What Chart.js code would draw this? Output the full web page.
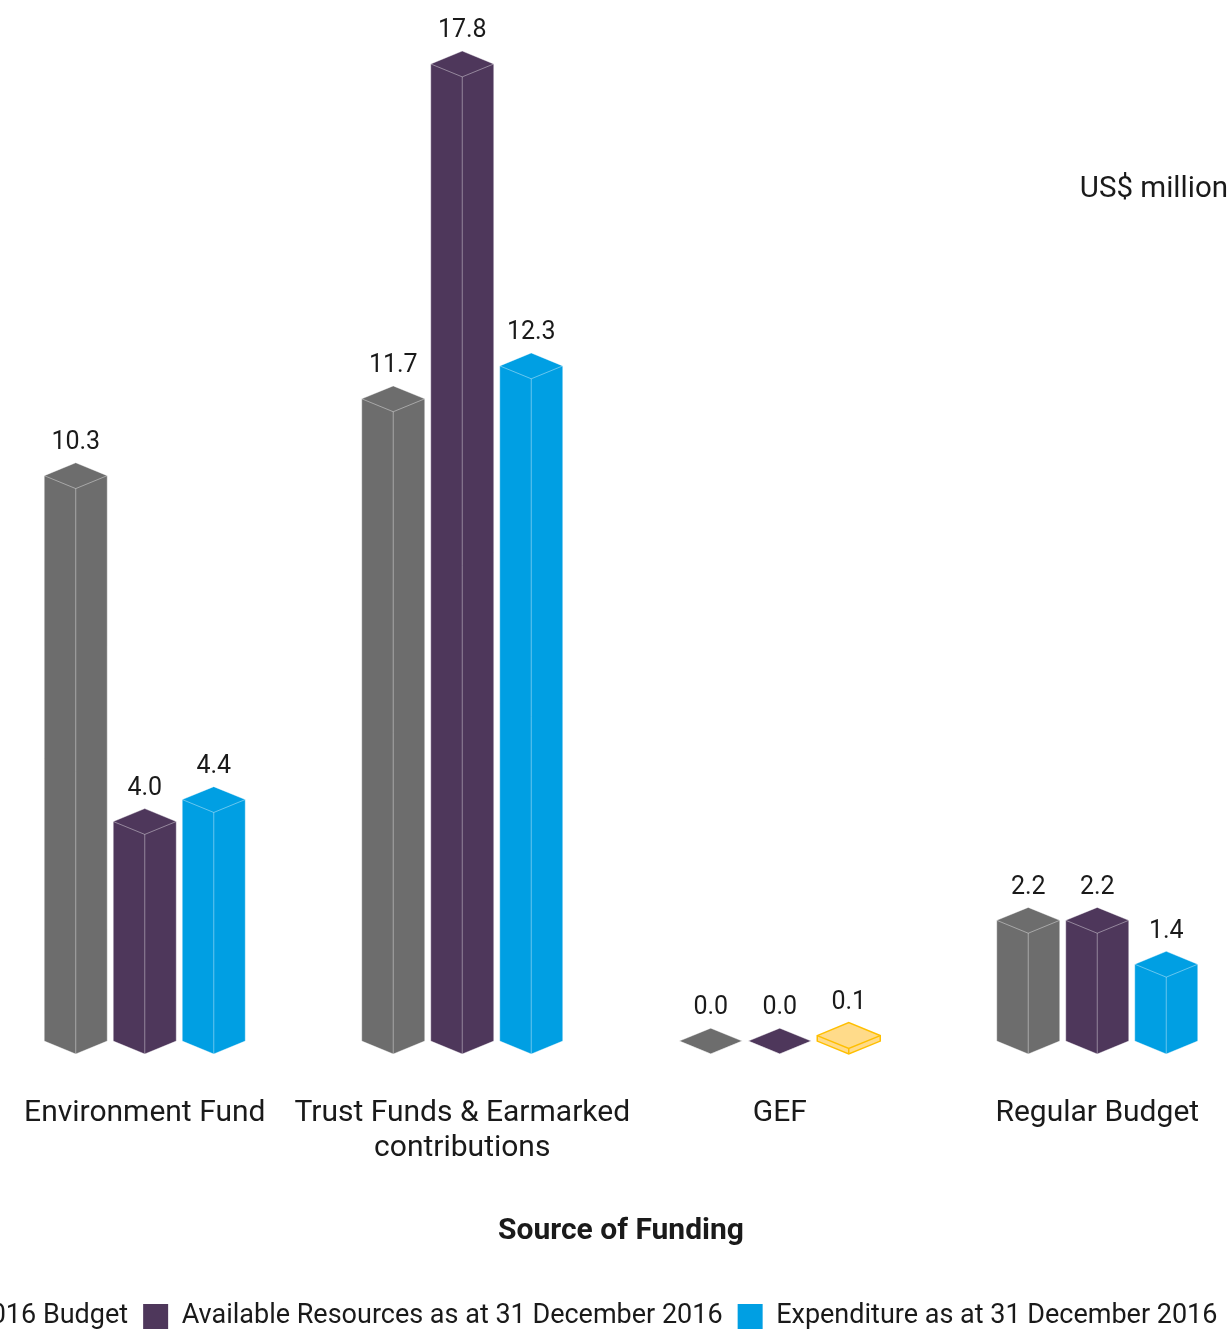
<!DOCTYPE html>
<html>
<head>
<meta charset="utf-8">
<script src="https://cdn.jsdelivr.net/npm/chart.js@4.4.1/dist/chart.umd.min.js"></script>
<style>
  html, body { margin: 0; padding: 0; background: #fff; overflow: hidden; }
  #wrap { position: absolute; left: -120px; top: 0; width: 1380px; height: 1350px; }
</style>
</head>
<body>
<div id="wrap"><canvas id="fundingChart"></canvas></div>
<script>
// Data
const categories = ['Environment Fund', ['Trust Funds & Earmarked', 'contributions'], 'GEF', 'Regular Budget'];
const seriesNames = ['2016 Budget', 'Available Resources as at 31 December 2016', 'Expenditure as at 31 December 2016'];
const budget2016 = [10.3, 11.7, 0.0, 2.2];
const availableResources = [4.0, 17.8, 0.0, 2.2];
const expenditure = [4.4, 12.3, 0.1, 1.4];
const unitLabel = 'US$ million';

const seriesColors = ['#6d6d6d', '#4e375b', '#009fe3'];
const highlightFill = '#ffdb8a';
const highlightEdge = '#ffbf00';
const textColor = '#1a1a1a';
const fontFamily = 'Roboto, "Noto Sans", sans-serif';

// GEF expenditure is shown in yellow in the original
function isHighlight(di, i) { return di === 2 && i === 2; }

// Draws every bar as an isometric prism instead of a flat rectangle
const prismBars = {
  id: 'prismBars',
  beforeDatasetDraw() { return false; },
  afterDatasetsDraw(chart) {
    const ctx = chart.ctx;
    ctx.save();
    chart.data.datasets.forEach((ds, di) => {
      const meta = chart.getDatasetMeta(di);
      meta.data.forEach((bar, i) => {
        const { x, y, base, width } = bar.getProps(['x', 'y', 'base', 'width'], true);
        const hw = width / 2;
        const d = width * 0.205;
        const hl = isHighlight(di, i);
        const fill = hl ? highlightFill : seriesColors[di];
        const edge = hl ? highlightEdge : 'rgba(255,255,255,0.4)';

        ctx.beginPath();
        ctx.moveTo(x - hw, y - d);
        ctx.lineTo(x, y - 2 * d);
        ctx.lineTo(x + hw, y - d);
        ctx.lineTo(x + hw, base - d);
        ctx.lineTo(x, base);
        ctx.lineTo(x - hw, base - d);
        ctx.closePath();
        ctx.fillStyle = fill;
        ctx.fill();
        ctx.lineWidth = hl ? 1.5 : 1;
        ctx.strokeStyle = edge;
        ctx.stroke();

        ctx.beginPath();
        ctx.moveTo(x - hw, y - d);
        ctx.lineTo(x, y);
        ctx.lineTo(x + hw, y - d);
        ctx.moveTo(x, y);
        ctx.lineTo(x, base);
        ctx.stroke();

        // value label
        ctx.fillStyle = textColor;
        ctx.font = '25px ' + fontFamily;
        ctx.textAlign = 'center';
        ctx.textBaseline = 'middle';
        ctx.fillText(ds.data[i].toFixed(1), x, y - 2 * d - 20);
      });
    });
    ctx.restore();
  },
  afterDraw(chart) {
    const { ctx, chartArea } = chart;
    ctx.save();
    ctx.fillStyle = textColor;
    ctx.font = '29.5px ' + fontFamily;
    ctx.textAlign = 'right';
    ctx.textBaseline = 'middle';
    ctx.fillText(unitLabel, chartArea.right - 28, chartArea.top + 179);
    ctx.restore();
  }
};

const seriesData = [budget2016, availableResources, expenditure];

new Chart(document.getElementById('fundingChart'), {
  type: 'bar',
  data: {
    labels: categories,
    datasets: seriesNames.map((name, di) => ({
      label: name,
      data: seriesData[di],
      backgroundColor: seriesColors[di],
      borderWidth: 0,
      categoryPercentage: 0.652,
      barPercentage: 0.913
    }))
  },
  options: {
    animation: false,
    responsive: true,
    maintainAspectRatio: false,
    layout: { padding: { left: 42, right: 4, top: 11, bottom: 10 } },
    scales: {
      x: {
        grid: { display: false, drawTicks: false },
        border: { display: false },
        ticks: {
          padding: 42.5,
          maxRotation: 0,
          autoSkip: false,
          color: textColor,
          font: { family: fontFamily, size: 30, lineHeight: 1.1667 }
        },
        title: {
          display: true,
          text: 'Source of Funding',
          color: textColor,
          font: { family: fontFamily, size: 30, weight: 'bold' },
          padding: { top: 4, bottom: 39 }
        }
      },
      y: {
        min: 0,
        max: 19,
        grid: { display: false, drawTicks: false },
        border: { display: false },
        ticks: { display: false },
        afterFit: s => { s.width = 64; }
      }
    },
    plugins: {
      legend: {
        position: 'bottom',
        align: 'start',
        labels: {
          boxWidth: 25,
          boxHeight: 25,
          padding: 15,
          color: textColor,
          font: { family: fontFamily, size: 27 }
        }
      },
      tooltip: { enabled: false }
    }
  },
  plugins: [prismBars]
});
</script>
</body>
</html>
